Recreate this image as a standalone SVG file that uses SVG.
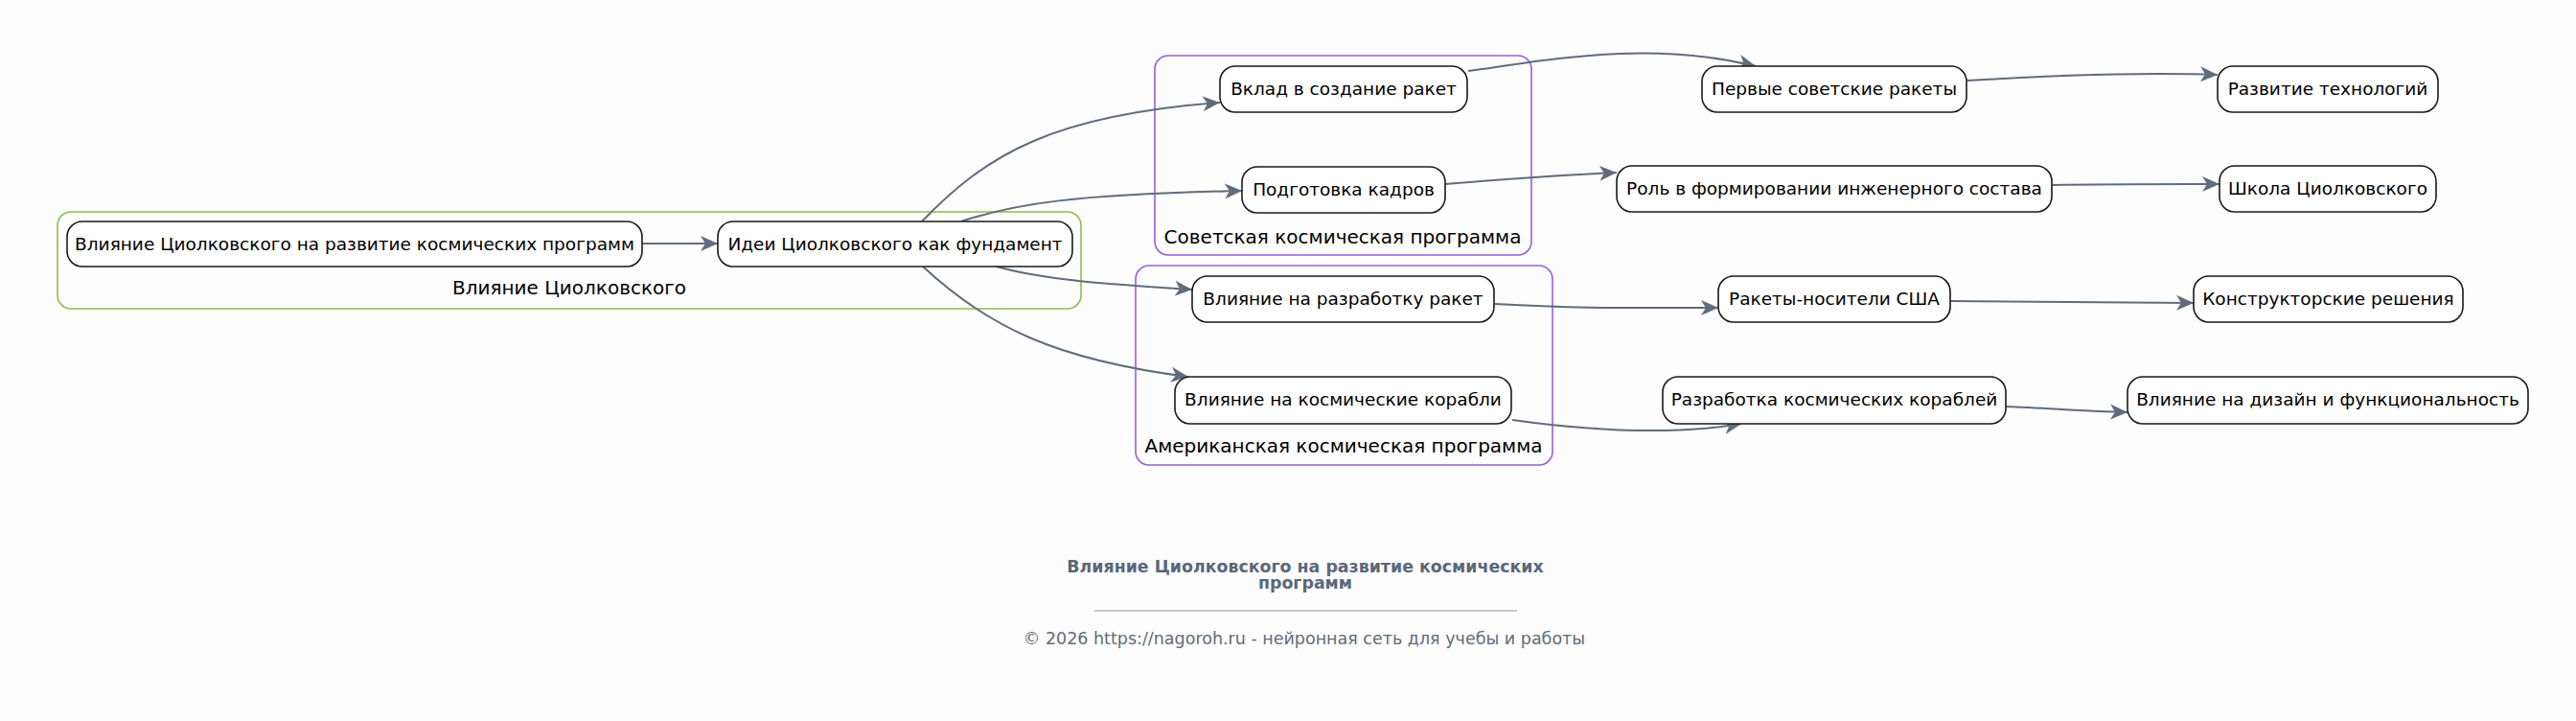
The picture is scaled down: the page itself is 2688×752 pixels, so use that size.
<svg xmlns="http://www.w3.org/2000/svg" width="2688" height="752" viewBox="0 0 2688 752">
<defs>
<style>
.bg{fill:#fdfdfd}
.node rect{fill:#ffffff;stroke:#1a1a1a;stroke-width:1.6}
.node text{font-family:"DejaVu Sans",sans-serif;font-size:18.5px;fill:#000;text-anchor:middle}
.cl{fill:none;stroke-width:1.6}
.clg{stroke:#8fbc4f}
.clp{stroke:#9560d8}
.cltext{font-family:"DejaVu Sans",sans-serif;font-size:20px;fill:#000;text-anchor:middle}
.edges path{fill:none;stroke:#5f6c7b;stroke-width:2;marker-end:url(#vee)}
.title{font-family:"DejaVu Sans",sans-serif;font-size:17.4px;font-weight:bold;fill:#5a6778;text-anchor:middle}
.foot{font-family:"DejaVu Sans",sans-serif;font-size:17.5px;fill:#5f6b7a;text-anchor:middle}
</style>
<marker id="vee" markerUnits="userSpaceOnUse" markerWidth="20" markerHeight="18" refX="18" refY="8" orient="auto" viewBox="0 0 20 16">
<path d="M0,0 L18,8 L0,16 L5,8 z" fill="#5f6c7b"/>
</marker>
</defs>
<rect class="bg" x="0" y="0" width="2688" height="752"/>

<g id="cluster-influence">
<rect class="cl clg" x="60" y="221" width="1068" height="101" rx="14"/>
<text class="cltext" x="594" y="307">Влияние Циолковского</text>
</g>
<g id="cluster-soviet">
<rect class="cl clp" x="1205" y="58" width="393" height="208" rx="14"/>
<text class="cltext" x="1401" y="254">Советская космическая программа</text>
</g>
<g id="cluster-american">
<rect class="cl clp" x="1185" y="277" width="435" height="208" rx="14"/>
<text class="cltext" x="1402" y="472">Американская космическая программа</text>
</g>

<g class="edges" id="edges">
<path d="M670,254 L749,254"/>
<path d="M962,231 C1030,160 1100,120 1273,107"/>
<path d="M1003,231 C1060,212 1120,203 1296,199"/>
<path d="M1040,278 C1090,292 1150,296 1244,302"/>
<path d="M963,278 C1030,340 1100,375 1240,393"/>
<path d="M1532,74 C1620,62 1720,42 1832,69"/>
<path d="M1508,192 C1570,187 1620,183 1687,180"/>
<path d="M1560,317 C1650,322 1700,321 1793,321"/>
<path d="M1578,438 C1650,448 1740,455 1817,442"/>
<path d="M2053,84 C2150,78 2230,75 2314,78"/>
<path d="M2142,193 C2200,192 2250,192 2316,192"/>
<path d="M2035,314 C2120,315 2200,315 2289,316"/>
<path d="M2093,424 C2140,426 2180,429 2220,430"/>
</g>

<g id="n1" class="node"><rect x="70" y="231" width="600" height="47" rx="16"/><text x="370" y="261">Влияние Циолковского на развитие космических программ</text></g>
<g id="n2" class="node"><rect x="749" y="231" width="370" height="47" rx="16"/><text x="934" y="261">Идеи Циолковского как фундамент</text></g>
<g id="n3" class="node"><rect x="1273" y="69" width="258" height="48" rx="16"/><text x="1402" y="99">Вклад в создание ракет</text></g>
<g id="n4" class="node"><rect x="1296" y="174" width="212" height="48" rx="16"/><text x="1402" y="204">Подготовка кадров</text></g>
<g id="n5" class="node"><rect x="1244" y="288" width="315" height="48" rx="16"/><text x="1401.5" y="318">Влияние на разработку ракет</text></g>
<g id="n6" class="node"><rect x="1226" y="393" width="351" height="49" rx="16"/><text x="1401.5" y="423">Влияние на космические корабли</text></g>
<g id="n7" class="node"><rect x="1776" y="69" width="276" height="48" rx="16"/><text x="1914" y="99">Первые советские ракеты</text></g>
<g id="n8" class="node"><rect x="1687" y="173" width="454" height="48" rx="16"/><text x="1914" y="203">Роль в формировании инженерного состава</text></g>
<g id="n9" class="node"><rect x="1793" y="288" width="242" height="48" rx="16"/><text x="1914" y="318">Ракеты-носители США</text></g>
<g id="n10" class="node"><rect x="1735" y="393" width="358" height="49" rx="16"/><text x="1914" y="423">Разработка космических кораблей</text></g>
<g id="n11" class="node"><rect x="2314" y="69" width="230" height="48" rx="16"/><text x="2429" y="99">Развитие технологий</text></g>
<g id="n12" class="node"><rect x="2316" y="173" width="226" height="48" rx="16"/><text x="2429" y="203">Школа Циолковского</text></g>
<g id="n13" class="node"><rect x="2289" y="288" width="281" height="48" rx="16"/><text x="2429.5" y="318">Конструкторские решения</text></g>
<g id="n14" class="node"><rect x="2220" y="393" width="418" height="49" rx="16"/><text x="2429" y="423">Влияние на дизайн и функциональность</text></g>

<g id="footer">
<text class="title" x="1362" y="597">Влияние Циолковского на развитие космических</text>
<text class="title" x="1362" y="614">программ</text>
<line x1="1142" y1="637" x2="1583" y2="637" stroke="#8a94a0" stroke-width="1"/>
<text class="foot" x="1361" y="672">© 2026 https://nagoroh.ru - нейронная сеть для учебы и работы</text>
</g>
</svg>
